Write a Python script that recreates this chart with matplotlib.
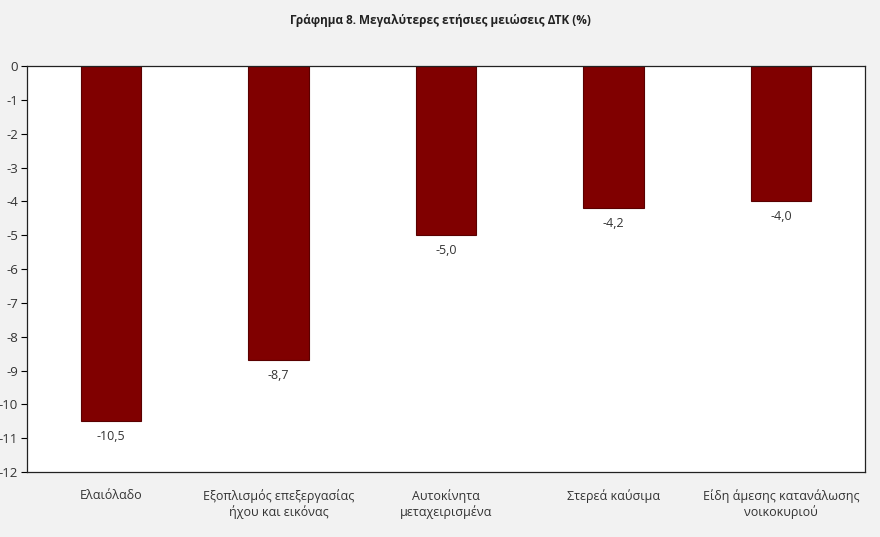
import matplotlib
matplotlib.use("Agg")
import matplotlib.pyplot as plt

categories = ["Ελαιόλαδο", "Εξοπλισμός επεξεργασίας\nήχου και εικόνας", "Αυτοκίνητα\nμεταχειρισμένα",
              "Στερεά καύσιμα", "Είδη άμεσης κατανάλωσης\nνοικοκυριού"]
values = [-10.5, -8.7, -5.0, -4.2, -4.0]
yticks = list(range(0, -13, -1))
title = "Γράφημα 8. Μεγαλύτερες ετήσιες μειώσεις ΔΤΚ (%)"

plt.rcParams['font.family'] = ['Open Sans', 'DejaVu Sans']

fig = plt.figure(figsize=(8.8, 5.37), dpi=100, facecolor="#f2f2f2")
ax = fig.add_axes([0.0307, 0.121, 0.9523, 0.756])
ax.set_facecolor("white")

x = list(range(len(categories)))
ax.bar(x, values, width=0.36, color="#800000", edgecolor="#5a0000", linewidth=0.8, zorder=2)
for xi, v in zip(x, values):
    ax.text(xi, v - 0.25, f"{v:.1f}".replace(".", ","), ha="center", va="top",
            fontsize=9, color="#333333")

ax.set_xlim(-0.5, len(categories) - 0.5)
ax.set_ylim(-12, 0)
ax.set_yticks(yticks)
ax.set_yticklabels([str(t) for t in yticks], fontsize=9.5, color="#333333")
ax.set_xticks(x)
ax.set_xticklabels(categories, fontsize=9, color="#333333", linespacing=1.25)
ax.tick_params(axis="x", length=0, pad=12)
ax.tick_params(axis="y", length=4, direction="out", pad=2.5, width=0.8)
for s in ax.spines.values():
    s.set_color("#222222")
    s.set_linewidth(0.9)

fig.text(0.5, 0.962, title, ha="center", va="center", fontsize=8.5, fontweight="bold", color="#222222")

fig.savefig("out.png", dpi=100, facecolor=fig.get_facecolor())
